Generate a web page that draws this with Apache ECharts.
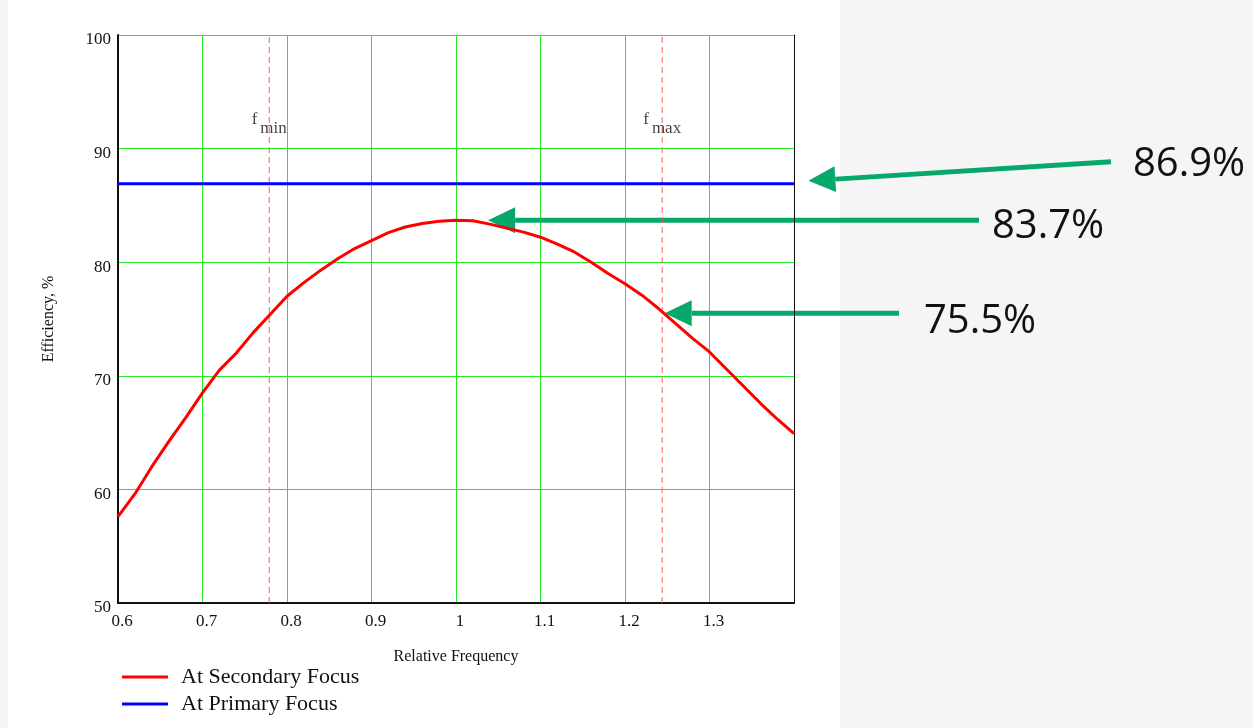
<!DOCTYPE html>
<html>
<head>
<meta charset="utf-8">
<script src="https://cdn.jsdelivr.net/npm/echarts@6/dist/echarts.min.js"></script>
<style>
  html, body { margin: 0; padding: 0; background: #f5f5f5; }
  #panel { position: absolute; left: 8px; top: 0; width: 832px; height: 728px; background: #ffffff; }
  #chart { position: absolute; left: 0; top: 0; width: 1253px; height: 728px; }
</style>
</head>
<body>
<div id="panel"></div>
<div id="chart"></div>
<script>
// relative frequency (x) and efficiency at the secondary focus (%)
const relFreq = [0.60, 0.62, 0.64, 0.66, 0.68, 0.70, 0.72, 0.74, 0.76, 0.78,
                 0.80, 0.82, 0.84, 0.86, 0.88, 0.90, 0.92, 0.94, 0.96, 0.98,
                 1.00, 1.02, 1.04, 1.06, 1.08, 1.10, 1.12, 1.14, 1.16, 1.18,
                 1.20, 1.22, 1.24, 1.26, 1.28, 1.30, 1.32, 1.34, 1.36, 1.38, 1.40];
const secondaryEff = [57.6, 59.6, 62.0, 64.2, 66.3, 68.5, 70.5, 72.0, 73.8, 75.4,
                      77.0, 78.2, 79.3, 80.3, 81.2, 81.9, 82.6, 83.1, 83.4, 83.6,
                      83.7, 83.65, 83.35, 83.0, 82.65, 82.2, 81.6, 80.9, 80.0, 79.0,
                      78.1, 77.1, 75.9, 74.6, 73.3, 72.1, 70.6, 69.1, 67.6, 66.2, 64.9];

// efficiency at the primary focus (flat)
const primaryFreq = [0.6, 1.4];
const primaryEff = [86.9, 86.9];

// band limits
const limitFreq = [0.779, 1.244];
const limitSub = ['min', 'max'];
const limitSpan = [50, 100];
const limitLabelEff = 92.2;

// callouts: text and the point each arrow points at [x, y]
const calloutText = ['86.9%', '83.7%', '75.5%'];
const calloutTarget = [[1.417, 86.9], [1.038, 83.7], [1.247, 75.5]];

const serif = '"Liberation Serif", "Times New Roman", serif';

const chart = echarts.init(document.getElementById('chart'));

// dashed vertical lines at f min / f max
const limitSeries = limitFreq.map(f => ({
    name: 'limit',
    type: 'line',
    data: limitSpan.map(v => [f, v]),
    showSymbol: false,
    silent: true,
    z: 3,
    lineStyle: { color: '#ff5c5c', type: [6, 4], width: 1 }
}));

const option = {
    animation: false,
    backgroundColor: 'transparent',
    grid: { left: 118, right: 459, top: 35, bottom: 125 },
    legend: {
        orient: 'vertical',
        left: 117,
        top: 661,
        itemWidth: 46,
        itemHeight: 3,
        itemGap: 5,
        icon: 'rect',
        data: ['At Secondary Focus', 'At Primary Focus'],
        textStyle: { fontFamily: serif, fontSize: 22, color: '#111', padding: [0, 0, 0, 8] }
    },
    xAxis: {
        type: 'value',
        min: 0.6,
        max: 1.4,
        interval: 0.1,
        name: 'Relative Frequency',
        nameLocation: 'middle',
        nameGap: 46,
        nameTextStyle: { fontFamily: serif, fontSize: 16, color: '#111' },
        axisLine: { show: true, onZero: false, lineStyle: { color: '#111', width: 2 } },
        axisTick: { show: false },
        axisLabel: {
            fontFamily: serif, fontSize: 17, color: '#111', margin: 10,
            padding: [0, 0, 0, 8],
            formatter: v => (v > 1.35 ? '' : String(+v.toFixed(1)))
        },
        splitLine: { show: true, showMinLine: false, showMaxLine: false, lineStyle: { color: '#22ea22', width: 1 } }
    },
    yAxis: [{
        type: 'value',
        min: 50,
        max: 100,
        interval: 10,
        name: 'Efficiency, %',
        nameLocation: 'middle',
        nameGap: 61,
        nameTextStyle: { fontFamily: serif, fontSize: 16, color: '#111' },
        axisLine: { show: true, lineStyle: { color: '#111', width: 2 } },
        axisTick: { show: false },
        axisLabel: {
            margin: 7,
            formatter: v => '{t|' + v + '}',
            rich: { t: { fontFamily: serif, fontSize: 17, color: '#111', padding: [10, 0, 0, 0] } }
        },
        splitLine: { show: true, showMinLine: false, lineStyle: { color: '#22ea22', width: 1 } }
    }, {
        type: 'value',
        position: 'right',
        min: 50,
        max: 100,
        axisLine: { show: true, lineStyle: { color: '#111', width: 1 } },
        axisTick: { show: false },
        axisLabel: { show: false },
        splitLine: { show: false }
    }],
    series: [
        {
            name: 'At Secondary Focus',
            type: 'line',
            data: relFreq.map((f, i) => [f, secondaryEff[i]]),
            showSymbol: false,
            lineStyle: { color: '#ff0000', width: 3 },
            itemStyle: { color: '#ff0000' },
            z: 4
        },
        {
            name: 'At Primary Focus',
            type: 'line',
            data: primaryFreq.map((f, i) => [f, primaryEff[i]]),
            showSymbol: false,
            lineStyle: { color: '#0000ff', width: 3 },
            itemStyle: { color: '#0000ff' },
            z: 4
        },
        ...limitSeries,
        {
            name: 'limitLabels',
            type: 'scatter',
            symbolSize: 0,
            silent: true,
            z: 5,
            itemStyle: { color: '#ffffff' },
            data: limitFreq.map((f, i) => ({
                value: [f, limitLabelEff],
                label: { formatter: '{f|f}{s|' + limitSub[i] + '}' }
            })),
            label: {
                show: true,
                position: 'inside',
                color: '#111',
                textBorderWidth: 0,
                rich: {
                    f: { fontFamily: serif, fontSize: 17, color: '#111', textBorderWidth: 0, verticalAlign: 'top', padding: [0, 3, 0, 0] },
                    s: { fontFamily: serif, fontSize: 17, color: '#111', textBorderWidth: 0, verticalAlign: 'top', padding: [9, 0, 0, 0] }
                }
            }
        }
    ]
};

chart.setOption(option);

// callout arrows, anchored to the values they point at
const green = '#07a96b';
const shaftEndX = [1111, 979, 899];
const shaftEndDy = [-19, 0, 0];
const textX = [1133, 992, 924];
const textDy = [-16, 6, 8];
const graphics = [];
calloutTarget.forEach((t, i) => {
    const tip = chart.convertToPixel({ gridIndex: 0 }, t);
    const tx = tip[0], ty = tip[1] - (i === 0 ? 3 : 0);
    const sx = shaftEndX[i], sy = ty + shaftEndDy[i];
    const len = Math.hypot(sx - tx, sy - ty);
    const dx = (sx - tx) / len, dy = (sy - ty) / len;
    const bx = tx + dx * 27, by = ty + dy * 27;
    graphics.push({
        type: 'line',
        shape: { x1: bx, y1: by, x2: sx, y2: sy },
        style: { stroke: green, lineWidth: 5 }
    });
    graphics.push({
        type: 'polygon',
        shape: { points: [[tx, ty], [bx - dy * 13, by + dx * 13], [bx + dy * 13, by - dx * 13]] },
        style: { fill: green }
    });
    graphics.push({
        type: 'text',
        x: textX[i],
        y: ty + textDy[i],
        style: {
            text: calloutText[i],
            font: '40px "Open Sans", "Noto Sans", sans-serif',
            fill: '#111',
            align: 'left',
            verticalAlign: 'middle'
        }
    });
});
chart.setOption({ graphic: graphics });
</script>
</body>
</html>
